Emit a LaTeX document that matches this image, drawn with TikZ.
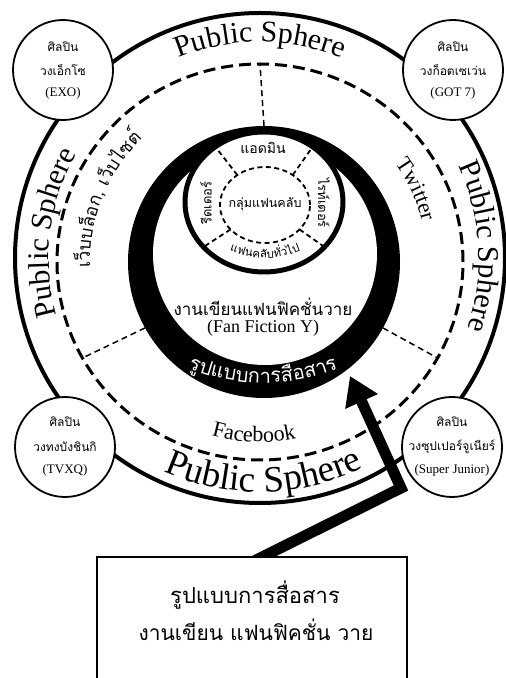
\documentclass[tikz,border=0pt]{standalone}
\usepackage{fontspec}
\setmainfont{Liberation Serif}
\newfontfamily\thaifont[Script=Thai]{Loma}
\usetikzlibrary{decorations.text,arrows.meta}
\begin{document}
\begin{tikzpicture}[x=1pt,y=1pt,
  corner/.style={circle, draw, line width=1.8pt, fill=white, minimum size=100pt, inner sep=0pt},
  bigdash/.style={line width=3pt, dash pattern=on 12pt off 6pt},
  raddash/.style={line width=1.5pt, dash pattern=on 6pt off 4pt},
  smalldash/.style={line width=1.8pt, dash pattern=on 5pt off 3.5pt},
  thlbl/.style={font=\thaifont\fontsize{#1}{#1}\selectfont, inner sep=0pt},
  serlbl/.style={font=\fontsize{#1}{#1}\selectfont, inner sep=0pt},
]
\useasboundingbox (0,0) rectangle (506,678);
\fill[white] (0,0) rectangle (506,678);
% centres
\coordinate (O) at (260,420);
\coordinate (D) at (260,416);
\coordinate (B) at (264,416);
\coordinate (W) at (265,424);
\coordinate (S) at (264,476);
\coordinate (I) at (265,473);
% outer public sphere circle
\draw[line width=4pt] (O) circle[radius=245];
% dashed media ring
\draw[bigdash] (D) ellipse[x radius=203, y radius=198];
% radial dashed separators
\path (B) ++(90:136) coordinate (rt1);
\path (D) ++(90:203 and 198) coordinate (rt2);
\path (B) ++(209:136) coordinate (rl1);
\path (D) ++(209:203 and 198) coordinate (rl2);
\path (B) ++(-29:136) coordinate (rr1);
\path (D) ++(-29:203 and 198) coordinate (rr2);
\draw[raddash] (rt1) -- (rt2);
\draw[raddash] (rl1) -- (rl2);
\draw[raddash] (rr1) -- (rr2);
% black ring
\fill[black] (B) circle[radius=136];
\fill[white] (W) ellipse[x radius=112, y radius=111];
% fan club circle
\draw[line width=5pt, fill=white] (S) ellipse[x radius=79, y radius=70];
\draw[smalldash] (I) ellipse[x radius=45, y radius=38];
\foreach \a in {128,52,220,320}{
  \path (I) ++(\a:45 and 38) coordinate (pi);
  \path (S) ++(\a:79 and 70) coordinate (po);
  \draw[smalldash] (pi) -- (po);
}
% fan club labels
\node[thlbl=14] (admin) at (263,530) {แอดมิน};
\node[thlbl=12.5] (club) at (265,474) {กลุ่มแฟนคลับ};
\node[thlbl=13, rotate=-90] (writer) at (324,475) {ไรท์เตอร์};
\node[thlbl=13, rotate=90] (reader) at (206,475) {รีดเดอร์};
\path[decorate, decoration={text along path, text align=center,
  text={|\thaifont\fontsize{11.5}{12}\selectfont|{แ}{ฟ}{น}{ค}{ลั}{บ}{ทั่}{ว}{ไ}{ป}}}]
  ([shift={(240:90)}]265,510) arc[start angle=240, end angle=300, radius=90];
% fan fiction
\node[thlbl=17] (ffth) at (263,371) {งานเขียนแฟนฟิคชั่นวาย};
\node[serlbl=18] (ffen) at (263,350) {(Fan Fiction Y)};
\path[decorate, decoration={text along path, text align=center,
  text={|\color{white}\thaifont\fontsize{20}{22}\selectfont|{รู}{ป}{แ}{บ}{บ}{ก}{า}{ร}{สื่}{อ}{ส}{า}{ร}}}]
  ([shift={(240:200)}]263,495) arc[start angle=240, end angle=300, radius=200];
% media labels
\path[decorate, decoration={text along path, text align=center,
  text={|\thaifont\fontsize{18}{20}\selectfont|{เ}{ว็}{บ}{บ}{ล็}{อ}{ก}{,} {เ}{ว็}{บ}{ไ}{ซ}{ต์}}}]
  ([shift={(195:172)}]262,416) arc[start angle=195, end angle=121, radius=172];
\path[decorate, decoration={text along path, text align=center,
  text={|\fontsize{22}{24}\selectfont|Twitter}}]
  ([shift={(55:167)}]260,416) arc[start angle=55, end angle=-5, radius=167];
\path[decorate, decoration={text along path, text align=center,
  text={|\fontsize{22}{24}\selectfont|Facebook}}]
  ([shift={(240:180)}]260,416) arc[start angle=240, end angle=296, radius=180];
% public sphere labels
\path[decorate, decoration={text along path, text align=center,
  text={|\fontsize{30}{32}\selectfont|Public Sphere}}]
  ([shift={(140:216)}]O) arc[start angle=140, end angle=40, radius=216];
\path[decorate, decoration={text along path, text align=center,
  text={|\fontsize{30}{32}\selectfont|Public Sphere}}]
  ([shift={(223:211)}]O) arc[start angle=223, end angle=123, radius=211];
\path[decorate, decoration={text along path, text align=center,
  text={|\fontsize{30}{32}\selectfont|Public Sphere}}]
  ([shift={(53:219)}]O) arc[start angle=53, end angle=-47, radius=219];
\path[decorate, decoration={text along path, text align=center,
  text={|\fontsize{37}{39}\selectfont|Public Sphere}}]
  ([shift={(221:234)}]O) arc[start angle=221, end angle=321, radius=234];
% artist circles
\node[corner] (exo) at (63,608) {};
\node[thlbl=12] at ([yshift=23]exo.center) {ศิลปิน};
\node[thlbl=12] at (exo.center) {วงเอ็กโซ};
\node[serlbl=13] at ([yshift=-23]exo.center) {(EXO)};
\node[corner] (got) at (453,608) {};
\node[thlbl=12] at ([yshift=23]got.center) {ศิลปิน};
\node[thlbl=12] at (got.center) {วงก็อตเซเว่น};
\node[serlbl=13] at ([yshift=-23]got.center) {(GOT 7)};
\node[corner] (tvxq) at (65,231) {};
\node[thlbl=12] at ([yshift=25]tvxq.center) {ศิลปิน};
\node[thlbl=12] at (tvxq.center) {วงทงบังชินกิ};
\node[serlbl=13] at ([yshift=-23]tvxq.center) {(TVXQ)};
\node[corner] (suju) at (452,231) {};
\node[thlbl=12] at ([yshift=25]suju.center) {ศิลปิน};
\node[thlbl=12] at (suju.center) {วงซุปเปอร์จูเนียร์};
\node[serlbl=13] at ([yshift=-23]suju.center) {(Super Junior)};
% arrow
\coordinate (a0) at (246,113);
\coordinate (a1) at (401,190);
\coordinate (a2) at (350,302);
\draw[line width=11pt, line join=miter, -{Triangle[length=28pt,width=34pt]}] (a0) -- (a1) -- (a2);
% box
\fill[white] (97,0) rectangle (407,121);
\draw[line width=1.5pt] (97,0) -- (97,121) -- (407,121) -- (407,0);
\node[thlbl=22] (box1) at (255,83) {รูปแบบการสื่อสาร};
\node[thlbl=21] (box2) at (256,48) {งานเขียน แฟนฟิคชั่น วาย};
\end{tikzpicture}
\end{document}
